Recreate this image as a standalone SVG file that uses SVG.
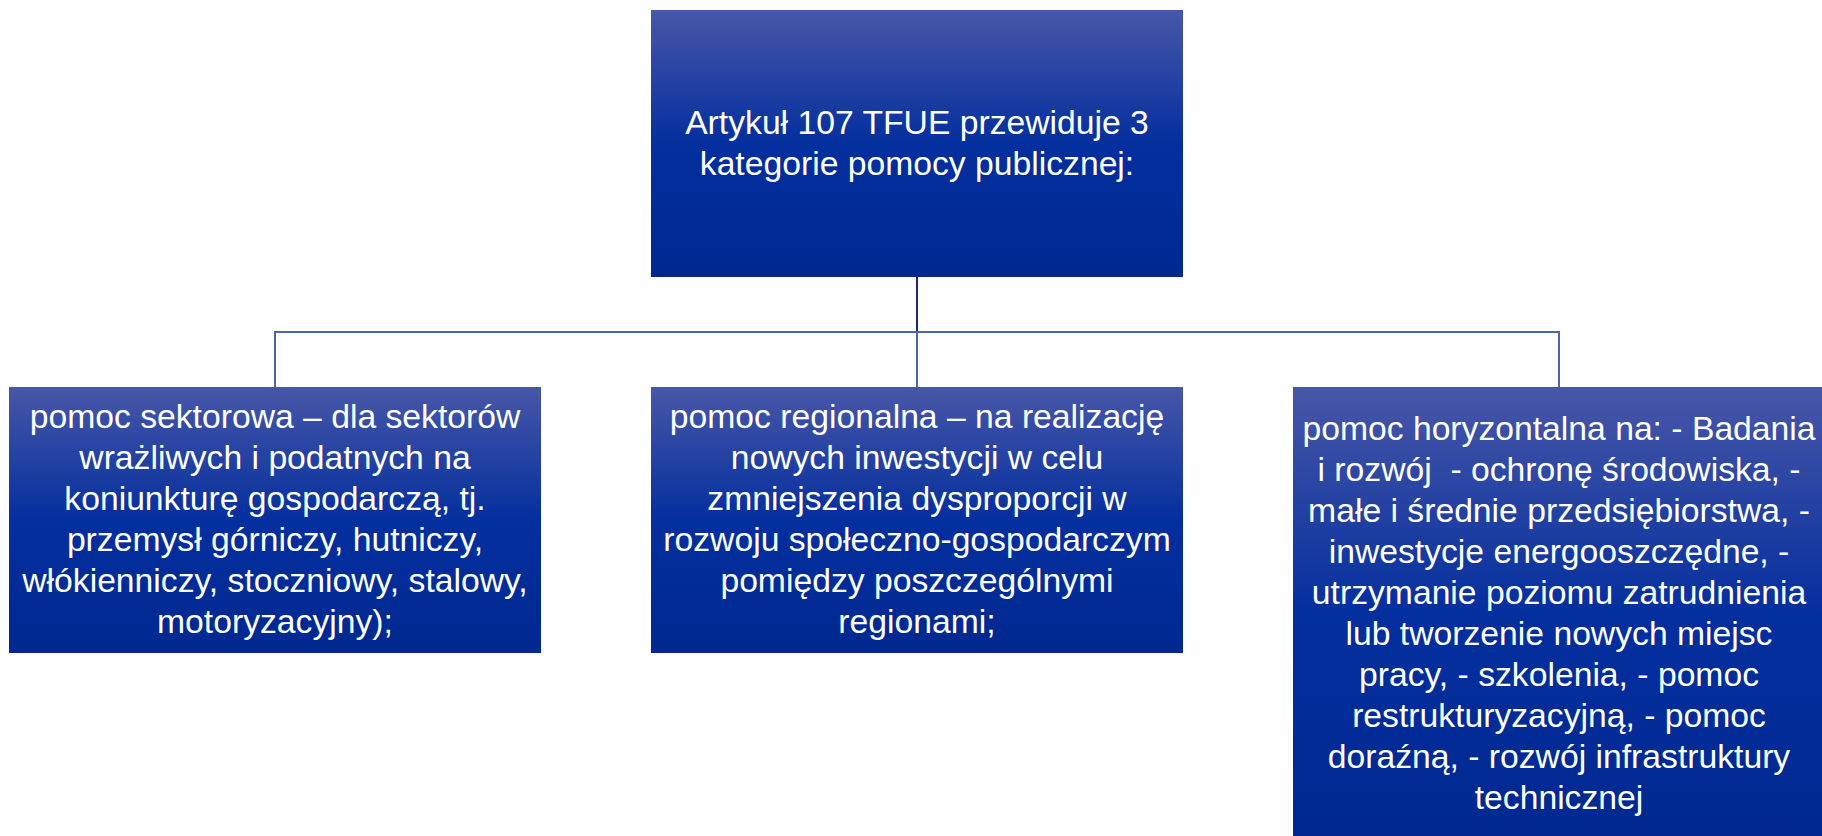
<svg xmlns="http://www.w3.org/2000/svg" width="1822" height="836" viewBox="0 0 1822 836">
<defs>
<linearGradient id="boxGrad" x1="0" y1="0" x2="0" y2="1">
<stop offset="0" stop-color="#4857A7"/>
<stop offset="0.5" stop-color="#042F9E"/>
<stop offset="1" stop-color="#002890"/>
</linearGradient>
<style>
.box{fill:url(#boxGrad);}
.t{font-family:"Liberation Sans",Arial,sans-serif;font-size:33.7px;fill:#ffffff;text-anchor:middle;white-space:pre;}
.c1{stroke:#1C2B6E;stroke-width:2;fill:none;}
.c2{stroke:#4A66A8;stroke-width:2;fill:none;}
</style>
</defs>
<rect width="1822" height="836" fill="#ffffff"/>
<g id="connectors">
<line class="c1" x1="917" y1="277" x2="917" y2="332"/>
<polyline class="c2" points="275,387 275,332 1559,332 1559,387"/>
<line class="c2" x1="917" y1="332" x2="917" y2="387"/>
</g>
<g id="node-top">
<rect class="box" x="651" y="10" width="532" height="267"/>
<text class="t" x="917" y="134">Artykuł 107 TFUE przewiduje 3</text>
<text class="t" x="917" y="175">kategorie pomocy publicznej:</text>
</g>
<g id="node-sektorowa">
<rect class="box" x="9" y="387" width="532" height="266"/>
<text class="t" x="275" y="428">pomoc sektorowa – dla sektorów</text>
<text class="t" x="275" y="469">wrażliwych i podatnych na</text>
<text class="t" x="275" y="510">koniunkturę gospodarczą, tj.</text>
<text class="t" x="275" y="551">przemysł górniczy, hutniczy,</text>
<text class="t" x="275" y="592">włókienniczy, stoczniowy, stalowy,</text>
<text class="t" x="275" y="633">motoryzacyjny);</text>
</g>
<g id="node-regionalna">
<rect class="box" x="651" y="387" width="532" height="266"/>
<text class="t" x="917" y="428">pomoc regionalna – na realizację</text>
<text class="t" x="917" y="469">nowych inwestycji w celu</text>
<text class="t" x="917" y="510">zmniejszenia dysproporcji w</text>
<text class="t" x="917" y="551">rozwoju społeczno-gospodarczym</text>
<text class="t" x="917" y="592">pomiędzy poszczególnymi</text>
<text class="t" x="917" y="633">regionami;</text>
</g>
<g id="node-horyzontalna">
<rect class="box" x="1293" y="387" width="532" height="453"/>
<text class="t" x="1559" y="440">pomoc horyzontalna na: - Badania</text>
<text class="t" x="1559" y="481">i rozwój  - ochronę środowiska, -</text>
<text class="t" x="1559" y="522">małe i średnie przedsiębiorstwa, -</text>
<text class="t" x="1559" y="563">inwestycje energooszczędne, -</text>
<text class="t" x="1559" y="604">utrzymanie poziomu zatrudnienia</text>
<text class="t" x="1559" y="645">lub tworzenie nowych miejsc</text>
<text class="t" x="1559" y="686">pracy, - szkolenia, - pomoc</text>
<text class="t" x="1559" y="727">restrukturyzacyjną, - pomoc</text>
<text class="t" x="1559" y="768">doraźną, - rozwój infrastruktury</text>
<text class="t" x="1559" y="809">technicznej</text>
</g>
</svg>
